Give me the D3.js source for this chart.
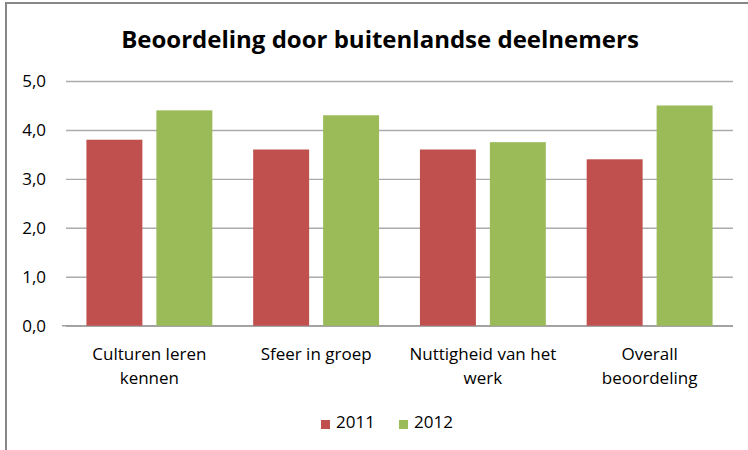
<!DOCTYPE html>
<html>
<head>
<meta charset="utf-8">
<script src="https://cdn.jsdelivr.net/npm/d3@7"></script>
<style>
    body { margin: 0; background: #fff; }
    svg text { font-family: "Open Sans", Lato, sans-serif; fill: #000; }
</style>
</head>
<body>
<div id="chart"></div>
<script>
const categories = [
    ['Culturen leren', 'kennen'],
    ['Sfeer in groep'],
    ['Nuttigheid van het', 'werk'],
    ['Overall', 'beoordeling']
];
const series = ['2011', '2012'];
const values2011 = [3.8, 3.6, 3.6, 3.4];
const values2012 = [4.4, 4.3, 3.75, 4.5];
const yTicks = [0, 1, 2, 3, 4, 5];
const colors = ['#C0504D', '#9BBB59'];

const fmt = {
    width: 748,
    height: 450,
    margins: { left: 66, right: 15, top: 81, bottom: 124 },
    title: 'Beoordeling door buitenlandse deelnemers'
};

let svg = d3.select('#chart').append('svg')
    .attr('width', fmt.width)
    .attr('height', fmt.height);

// frame around the chart
svg.append('rect')
    .attr('x', 6).attr('y', 3)
    .attr('width', fmt.width).attr('height', fmt.height)
    .attr('fill', '#fff')
    .attr('stroke', '#878787')
    .attr('stroke-width', 2);

let width = fmt.width - fmt.margins.left - fmt.margins.right,
    height = 325.7 - fmt.margins.top;

let keys = categories.map((d) => d.join(' '));

let x0 = d3.scaleBand().domain(keys).range([0, width])
    .paddingInner(0.245).paddingOuter(0.1225);
let x1 = d3.scaleBand().domain(series).range([0, x0.bandwidth()])
    .paddingInner(0.2);
let y = d3.scaleLinear().domain([0, 5]).range([height, 0]);

let g = svg.append('g')
    .attr('transform', 'translate(' + fmt.margins.left + ',' + fmt.margins.top + ')');

// gridlines + y labels
let grid = g.append('g')
    .call(d3.axisLeft(y).tickValues(yTicks).tickSize(-width).tickPadding(20)
        .tickFormat((d) => d3.format('.1f')(d).replace('.', ',')));
grid.select('.domain').remove();
grid.selectAll('.tick line')
    .attr('stroke', '#ababab')
    .attr('stroke-width', 1.4);
grid.selectAll('.tick text')
    .attr('x', -20)
    .attr('font-size', 17)
    .attr('fill', '#000');

// baseline reaches a little past the left edge
g.append('line')
    .attr('x1', -4).attr('x2', width)
    .attr('y1', y(0)).attr('y2', y(0))
    .attr('stroke', '#a0a0a0')
    .attr('stroke-width', 1.6);

let data = keys.map((k, i) => ({ key: k, vals: [values2011[i], values2012[i]] }));

let groups = g.selectAll('.cat')
    .data(data)
    .enter().append('g')
    .attr('transform', (d) => 'translate(' + x0(d.key) + ',0)');

groups.selectAll('rect')
    .data((d) => d.vals.map((v, i) => ({ s: series[i], v, i })))
    .enter().append('rect')
    .attr('x', (d) => x1(d.s))
    .attr('y', (d) => y(d.v))
    .attr('width', x1.bandwidth())
    .attr('height', (d) => y(0) - y(d.v))
    .attr('fill', (d) => colors[d.i]);

// category labels
let labels = g.selectAll('.xlabel')
    .data(categories)
    .enter().append('text')
    .attr('text-anchor', 'middle')
    .attr('font-size', 17)
    .attr('x', (d, i) => x0(keys[i]) + x0.bandwidth() / 2)
    .attr('y', 360 - fmt.margins.top);
labels.selectAll('tspan')
    .data((d) => d)
    .enter().append('tspan')
    .attr('x', function() { return d3.select(this.parentNode).attr('x'); })
    .attr('dy', (d, i) => i === 0 ? 0 : 24)
    .text((d) => d);

// title
svg.append('text')
    .attr('x', 380)
    .attr('y', 48)
    .attr('text-anchor', 'middle')
    .attr('font-size', 24)
    .attr('font-weight', 'bold')
    .text(fmt.title);

// legend
let legend = svg.append('g');
let legendX = [321, 399];
series.forEach((s, i) => {
    legend.append('rect')
        .attr('x', legendX[i]).attr('y', 420)
        .attr('width', 9).attr('height', 9)
        .attr('fill', colors[i]);
    legend.append('text')
        .attr('x', legendX[i] + 15).attr('y', 428)
        .attr('font-size', 17)
        .text(s);
});
</script>
</body>
</html>
